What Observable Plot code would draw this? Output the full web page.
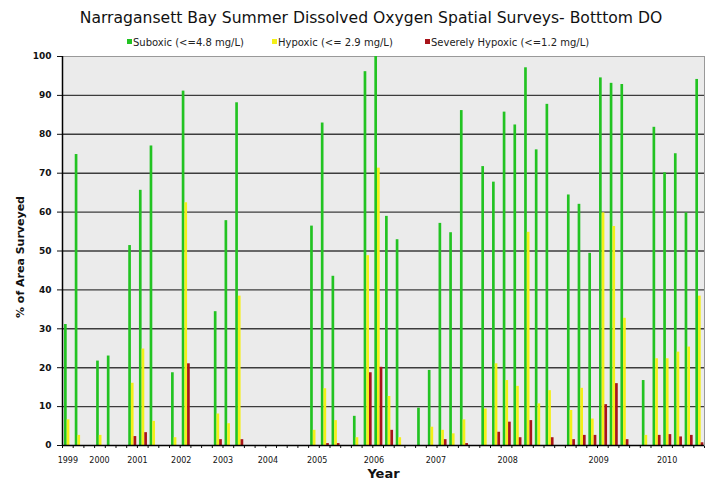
<!DOCTYPE html>
<html><head><meta charset="utf-8">
<script src="https://cdn.jsdelivr.net/npm/d3@7"></script>
<script src="https://cdn.jsdelivr.net/npm/@observablehq/plot@0.6"></script>
<style>
body{margin:0;background:#fff;font-family:"DejaVu Sans",sans-serif;}
#wrap{width:707px;height:483px;position:relative;overflow:hidden;background:#fff}
#title{position:absolute;top:9px;left:36px;width:670px;text-align:center;font-size:15.6px;color:#111;white-space:nowrap}
#legend{position:absolute;top:37px;left:0;width:707px;height:13px;font-size:10px;color:#222;white-space:nowrap}
#legend .it{position:absolute;top:0}
.sw{display:inline-block;width:5px;height:5px;margin-right:1px;vertical-align:2px}
#chart{position:absolute;top:50px;left:0}
#chart svg [aria-label^="y-axis"] text{font-weight:bold}
</style></head><body>
<div id="wrap">
<div id="title">Narragansett Bay Summer Dissolved Oxygen Spatial Surveys- Botttom DO</div>
<div id="legend"></div>
<div id="chart"></div>
</div>
<script>
// One entry per survey (60 survey slots, null = no survey value)
const suboxic = [31.1,74.8,null,21.7,23.0,null,51.4,65.6,77.0,null,18.7,91.1,null,null,34.4,57.8,88.1,null,null,null,null,null,null,56.4,82.9,43.5,null,7.5,96.1,100,58.9,52.9,null,9.6,19.3,57.1,54.7,86.1,null,71.7,67.7,85.7,82.4,97.1,76.0,87.7,null,64.4,62.0,49.4,94.5,93.1,92.8,null,16.7,81.8,70.1,75.0,59.8,94.1];
const hypoxic = [6.6,2.6,null,2.6,0,null,16.0,24.8,6.2,null,2.0,62.4,null,null,8.1,5.6,38.4,null,null,null,null,null,null,3.9,14.6,6.4,null,2.0,48.8,71.3,12.6,2.0,null,0,4.7,3.9,3.0,6.6,null,9.4,21.0,16.7,15.2,54.8,10.7,14.1,null,9.0,14.7,6.8,59.8,56.3,32.7,null,2.6,22.3,22.3,24.0,25.3,38.4];
const severe = [0,0,null,0,0,null,2.3,3.3,0,null,0,21.0,null,null,1.5,0,1.5,null,null,null,null,null,null,0,0.5,0.5,null,0,18.7,20.1,3.9,0,null,0,0,1.5,0,0.5,null,0,3.4,6.0,2.0,6.4,0,2.0,null,1.5,2.6,2.6,10.5,15.9,1.5,null,0,2.6,2.8,2.2,2.6,0.7];
const seriesNames = ["Suboxic (<=4.8 mg/L)", "Hypoxic (<= 2.9 mg/L)", "Severely Hypoxic (<=1.2 mg/L)"];
const seriesColors = ["#22c322", "#f4f018", "#a8141a"];
const legendLeft = [127, 272, 425];
const yTicks = [0,10,20,30,40,50,60,70,80,90,100];
const yearLabels = ["1999","2000","2001","2002","2003","2004","2005","2006","2007","2008","2009","2010"];
const yearPos = [0.5,3.46,7.0,11.1,15.0,19.2,23.8,29.1,34.9,41.6,50.1,56.5];

const nSurveys = suboxic.length;
const seriesArrays = [suboxic, hypoxic, severe];
const rows = [];
for (let i = 0; i < nSurveys; i++) {
  seriesArrays.forEach((arr, k) => {
    if (arr[i] != null && arr[i] > 0) rows.push({i, k, series: seriesNames[k], value: arr[i]});
  });
}

// legend
const leg = document.getElementById("legend");
seriesNames.forEach((n, k) => {
  const s = document.createElement("span");
  s.className = "it";
  s.style.left = legendLeft[k] + "px";
  s.innerHTML = `<span class="sw" style="background:${seriesColors[k]}"></span>`;
  s.appendChild(document.createTextNode(n));
  leg.appendChild(s);
});

const chart = Plot.plot({
  width: 707, height: 433,
  marginTop: 6, marginBottom: 38, marginLeft: 62, marginRight: 3,
  style: {fontFamily: "DejaVu Sans", fontSize: "9px", background: "transparent", color: "#111"},
  x: {domain: [0, nSurveys], ticks: d3.range(nSurveys + 1), tickFormat: () => "", tickSize: 3, label: null},
  y: {domain: [0, 100], ticks: yTicks, tickSize: 5, tickPadding: 6, label: null},
  color: {domain: seriesNames, range: seriesColors},
  marks: [
    Plot.frame({fill: "#ebebeb", stroke: "#999"}),
    Plot.ruleY(yTicks.filter(v => v > 0 && v < 100), {stroke: "#3c3c3c", strokeWidth: 1.4}),
    Plot.rectY(rows, {x1: d => d.i + 0.19 + 0.25 * d.k, x2: d => d.i + 0.44 + 0.25 * d.k, y1: 0, y2: "value", fill: "series"}),
    Plot.ruleY([0], {stroke: "#000", strokeWidth: 1.5}),
    Plot.ruleX([0], {stroke: "#000", strokeWidth: 1.5}),
    Plot.text(yearLabels, {x: (d, i) => yearPos[i], frameAnchor: "bottom", dy: 17, text: d => d, fontSize: 8}),
    Plot.text(["Year"], {frameAnchor: "bottom", dy: 32, text: d => d, fontWeight: "bold", fontSize: 13}),
    Plot.text(["% of Area Surveyed"], {frameAnchor: "left", textAnchor: "middle", rotate: -90, dx: -42, dy: 6, text: d => d, fontWeight: "bold", fontSize: 11})
  ]
});
document.getElementById("chart").appendChild(chart);
</script>
</body></html>
